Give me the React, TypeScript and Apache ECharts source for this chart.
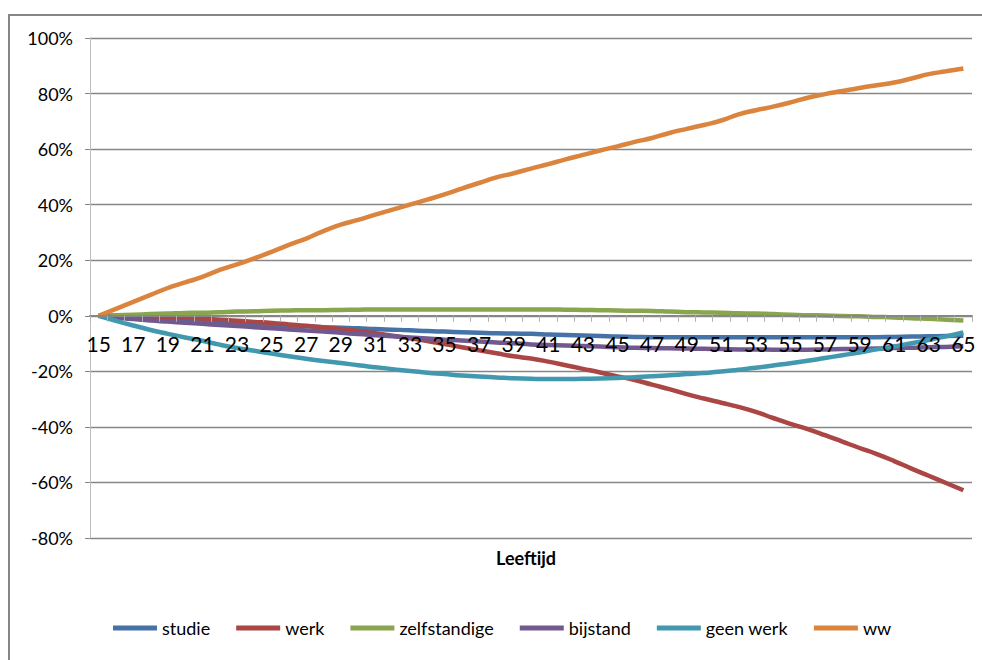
import React, { useEffect, useRef } from "react";
import * as echarts from "echarts";

const ages: string[] = [];
for (let a = 15; a <= 65; a++) ages.push(String(a));

const studie = [0, -0.5, -0.9, -1.3, -1.7, -2, -2.3, -2.6, -2.9, -3.1, -3.4, -3.6, -3.8, -4.1, -4.3, -4.5, -4.8, -5, -5.2, -5.5, -5.7, -5.9, -6.1, -6.3, -6.4, -6.5, -6.7, -6.9, -7.1, -7.3, -7.5, -7.6, -7.7, -7.7, -7.7, -7.7, -7.7, -7.7, -7.7, -7.7, -7.7, -7.7, -7.7, -7.7, -7.7, -7.7, -7.6, -7.5, -7.4, -7.3, -7.2];
const werk = [0, -0.2, -0.3, -0.4, -0.5, -0.7, -1, -1.4, -1.8, -2.2, -2.6, -3.1, -3.6, -4.2, -4.8, -5.5, -6.3, -7.2, -8.1, -9.1, -10.2, -11.3, -12.4, -13.5, -14.6, -15.4, -16.5, -17.8, -19.1, -20.4, -21.8, -23.1, -24.8, -26.4, -28.2, -29.8, -31.3, -32.8, -34.6, -36.8, -38.9, -40.8, -43, -45.3, -47.6, -49.8, -52.3, -55, -57.6, -60.2, -62.8];
const zelfstandige = [0, 0.2, 0.4, 0.6, 0.8, 1, 1.1, 1.3, 1.5, 1.6, 1.8, 1.9, 2, 2, 2.1, 2.2, 2.3, 2.3, 2.3, 2.3, 2.3, 2.3, 2.3, 2.3, 2.3, 2.3, 2.3, 2.2, 2.1, 2, 1.9, 1.8, 1.7, 1.5, 1.3, 1.2, 1.1, 0.9, 0.8, 0.6, 0.4, 0.2, 0.1, -0.1, -0.2, -0.4, -0.6, -0.9, -1.1, -1.4, -1.7];
const bijstand = [0, -0.6, -1.2, -1.7, -2.1, -2.5, -2.9, -3.3, -3.7, -4.1, -4.5, -4.9, -5.3, -5.7, -6.1, -6.6, -7, -7.4, -7.8, -8.2, -8.6, -8.9, -9.3, -9.6, -9.9, -10.3, -10.5, -10.7, -10.9, -11.1, -11.3, -11.5, -11.6, -11.7, -11.8, -11.9, -12, -12.1, -12.1, -12.2, -12.2, -12.2, -12.1, -12, -11.9, -11.8, -11.6, -11.5, -11.3, -11.2, -11];
const geenWerk = [0, -1.8, -3.5, -5.1, -6.5, -7.8, -9, -10.4, -11.6, -12.6, -13.6, -14.6, -15.5, -16.3, -17, -17.8, -18.5, -19.2, -19.9, -20.5, -21, -21.5, -21.9, -22.2, -22.5, -22.7, -22.8, -22.8, -22.7, -22.6, -22.4, -22.1, -21.8, -21.4, -21, -20.6, -20.1, -19.4, -18.7, -17.9, -17.1, -16.2, -15.2, -14.2, -13.2, -12.1, -11, -9.9, -8.7, -7.4, -6];
const ww = [0, 2.5, 5, 7.5, 10, 12, 14, 16.5, 18.5, 20.7, 23, 25.5, 27.8, 30.5, 32.8, 34.5, 36.4, 38.2, 40, 41.8, 43.7, 45.8, 47.8, 49.8, 51.3, 53, 54.6, 56.3, 57.9, 59.5, 61, 62.6, 64, 65.8, 67.3, 68.7, 70.3, 72.5, 74, 75.3, 76.8, 78.5, 79.8, 80.9, 82, 83, 84, 85.4, 87, 88, 89];

const seriesNames = ["studie", "werk", "zelfstandige", "bijstand", "geen werk", "ww"];
const seriesData = [studie, werk, zelfstandige, bijstand, geenWerk, ww];
const colors = ["#4572A7", "#AA4643", "#89A54E", "#71588F", "#4198AF", "#DB843D"];

const FONT = "Lato, 'Open Sans', sans-serif";

const Y_MIN = -0.8;
const Y_MAX = 1;
const GRID_TOP = 38;
const GRID_BOTTOM = 122;
const CH = 660;

export default function App() {
  const ref = useRef<HTMLDivElement>(null);
  useEffect(() => {
    if (!ref.current) return;
    const chart = echarts.init(ref.current, null, { renderer: "svg" });
    const gridH = CH - GRID_TOP - GRID_BOTTOM;
    const zeroOffset = -gridH * (0 - Y_MIN) / (Y_MAX - Y_MIN);
    chart.setOption({
      animation: false,
      backgroundColor: "#ffffff",
      textStyle: { fontFamily: FONT },
      grid: { left: 90, right: 10, top: GRID_TOP, bottom: GRID_BOTTOM, containLabel: false },
      legend: {
        bottom: 18,
        left: 108,
        icon: "rect",
        itemWidth: 44,
        itemHeight: 5,
        itemGap: 26,
        textStyle: { fontFamily: FONT, fontSize: 18, color: "#000" },
        data: seriesNames,
      },
      xAxis: {
        type: "category",
        data: ages,
        boundaryGap: true,
        position: "bottom",
        offset: zeroOffset,
        z: 10,
        axisLine: { onZero: false, lineStyle: { color: "#868686", width: 2 } },
        axisTick: { show: true, interval: 0, length: 6, lineStyle: { color: "#b0b0b0" } },
        axisLabel: { interval: 1, fontSize: 21, color: "#000", margin: 17, fontFamily: FONT },
        splitLine: { show: false },
      },
      yAxis: {
        type: "value",
        min: Y_MIN,
        max: Y_MAX,
        interval: 0.2,
        axisLine: { show: true, lineStyle: { color: "#c0c0c0", width: 1 } },
        axisTick: { show: true, length: 5, lineStyle: { color: "#868686" } },
        axisLabel: {
          fontSize: 18,
          color: "#000",
          margin: 17,
          fontFamily: FONT,
          formatter: (v: number) => Math.round(v * 100) + "%",
        },
        splitLine: { show: true, lineStyle: { color: "#868686", width: 1.3 } },
      },
      graphic: [
        {
          type: "rect",
          shape: { x: 9, y: 15, width: 1000, height: 700 },
          style: { fill: "none", stroke: "#868686", lineWidth: 2 },
          silent: true,
          z: -1,
        },
        {
          type: "text",
          left: 496,
          top: 549,
          style: { text: "Leeftijd", font: `bold 18px ${FONT}`, fill: "#000" },
        },
      ],
      series: seriesNames.map((name, i) => ({
        name,
        type: "line",
        data: seriesData[i].map((v) => v / 100),
        showSymbol: false,
        symbol: "none",
        smooth: true,
        z: 2,
        lineStyle: { color: colors[i], width: 4.5 },
        itemStyle: { color: colors[i] },
      })),
    });
    return () => chart.dispose();
  }, []);
  return (
    <div
      ref={ref}
      style={{ position: "absolute", left: 0, top: 0, width: 982, height: 660 }}
    />
  );
}
